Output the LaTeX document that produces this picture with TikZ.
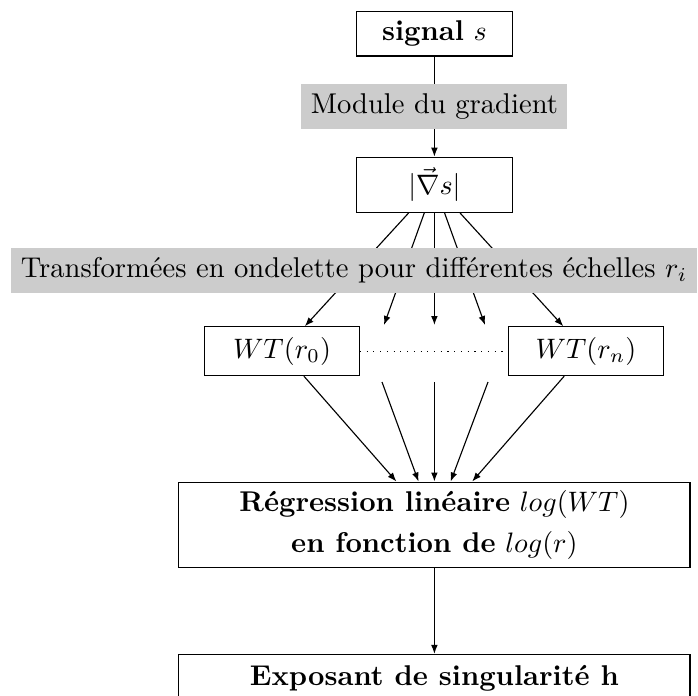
\documentclass[tikz,border=0pt]{standalone}
\usepackage{fontspec}
\usepackage{tikz}
\usetikzlibrary{arrows.meta}
\tikzset{
  blk/.style  ={draw, fill=white, align=center, inner sep=3pt},
  lbl/.style  ={fill=gray!40, inner sep=3.33pt},
  ar/.style   ={-{Latex[length=3.2pt, width=2.4pt]}},
  gap/.style  ={dotted}
}

\begin{document}
\begin{tikzpicture}[font=\fontsize{10.17}{12.2}\selectfont]
\useasboundingbox (0,0) rectangle (8.725,-8.6875);
\node[blk, minimum width=1.95cm, minimum height=0.56cm] (signal) at (5.43,-0.42)
  {\textbf{signal} $s$};
\node[blk, minimum width=1.95cm, minimum height=0.69cm] (grad) at (5.43,-2.31)
  {$|\vec{\nabla} s|$};
\node[blk, minimum width=1.93cm, minimum height=0.61cm] (wt0) at (3.525,-4.39)
  {$WT(r_0)$};
\node[blk, minimum width=1.93cm, minimum height=0.61cm] (wtn) at (7.325,-4.39)
  {$WT(r_n)$};
\node[blk, minimum width=6.39cm, minimum height=1.05cm] (reg) at (5.43,-6.56)
  {\textbf{Régression linéaire} $log(WT)$\\[2.2pt]
   \textbf{en fonction de} $log(r)$};
\node[blk, minimum width=6.39cm, minimum height=0.6cm] (expo) at (5.43,-8.48)
  {\textbf{Exposant de singularité h}};

% free ends of the arrows between the two WT boxes
\coordinate (t1) at (4.8,-4.0625);
\coordinate (t2) at (5.43,-4.0625);
\coordinate (t3) at (6.0625,-4.0625);
\coordinate (b1) at (4.775,-4.775);
\coordinate (b2) at (5.43,-4.775);
\coordinate (b3) at (6.1,-4.775);

\draw[ar] (signal) -- node[lbl]{Module du gradient} (grad);

\draw[ar] (grad) -- (wt0);
\draw[ar] (grad) -- (t1);
\draw[ar] (grad) -- (t2);
\draw[ar] (grad) -- (t3);
\draw[ar] (grad) -- (wtn);
\node[lbl] (scales) at (4.425,-3.38)
  {Transformées en ondelette pour différentes échelles $r_i$};

\draw[gap] (wt0) -- (wtn);

\draw[ar] (wt0) -- (reg);
\draw[ar] (b1) -- (reg);
\draw[ar] (b2) -- (reg);
\draw[ar] (b3) -- (reg);
\draw[ar] (wtn) -- (reg);

\draw[ar] (reg) -- (expo);
\end{tikzpicture}
\end{document}
